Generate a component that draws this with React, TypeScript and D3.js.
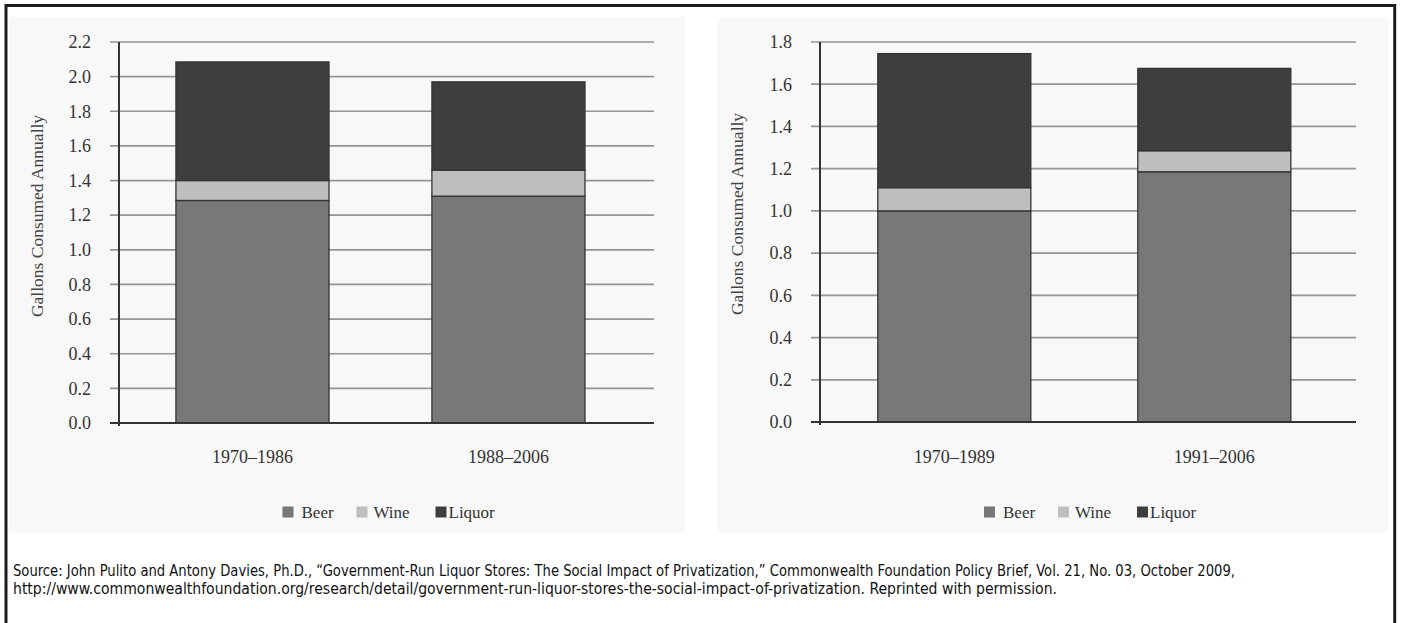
import React from "react";
import * as d3 from "d3";

// ---------- data ----------
const seriesNames = ["Beer", "Wine", "Liquor"];

const categoriesLeft = ["1970–1986", "1988–2006"];
const beerLeft = [1.285, 1.31];
const wineLeft = [0.115, 0.15];
const liquorLeft = [0.685, 0.51];
const ticksLeft = [0, 0.2, 0.4, 0.6, 0.8, 1.0, 1.2, 1.4, 1.6, 1.8, 2.0, 2.2];

const categoriesRight = ["1970–1989", "1991–2006"];
const beerRight = [1.0, 1.185];
const wineRight = [0.11, 0.1];
const liquorRight = [0.635, 0.39];
const ticksRight = [0, 0.2, 0.4, 0.6, 0.8, 1.0, 1.2, 1.4, 1.6, 1.8];

const yTitle = "Gallons Consumed Annually";
const sourceLine1 =
  "Source: John Pulito and Antony Davies, Ph.D., “Government-Run Liquor Stores: The Social Impact of Privatization,” Commonwealth Foundation Policy Brief, Vol. 21, No. 03, October 2009,";
const sourceLine2 =
  "http://www.commonwealthfoundation.org/research/detail/government-run-liquor-stores-the-social-impact-of-privatization. Reprinted with permission.";

// ---------- styles ----------
const colors: Record<string, string> = { Beer: "#78787a", Wine: "#bdbebf", Liquor: "#3e3e40" };
const SERIF = "'Liberation Serif', 'DejaVu Serif', serif";
const NARROW = "'Liberation Sans Narrow', 'DejaVu Sans Condensed', 'Liberation Sans', sans-serif";

type PanelProps = {
  categories: string[];
  beer: number[];
  wine: number[];
  liquor: number[];
  ticks: number[];
  yMax: number;
  axisX: number;
  gridEnd: number;
  top: number;
  bottom: number;
  pIn: number;
  pOut: number;
  align: number;
  titleX: number;
  titleY: number;
  panel: [number, number, number, number];
};

function Panel(p: PanelProps) {
  const rows = p.categories.map((c, i) => ({
    cat: c,
    Beer: p.beer[i],
    Wine: p.wine[i],
    Liquor: p.liquor[i],
  }));
  const stacked = d3.stack<any>().keys(seriesNames)(rows);
  const x = d3
    .scaleBand()
    .domain(p.categories)
    .range([p.axisX, p.gridEnd])
    .paddingInner(p.pIn)
    .paddingOuter(p.pOut)
    .align(p.align);
  const y = d3.scaleLinear().domain([0, p.yMax]).range([p.bottom, p.top]);
  const center = (p.axisX + p.gridEnd) / 2;
  const legendOffsets = [
    { sq: 0, tx: 19 },
    { sq: 74, tx: 91 },
    { sq: 153, tx: 166 },
  ];
  const legendStart = center - 104;
  const legendY = 512;
  return (
    <g>
      <rect x={p.panel[0]} y={p.panel[1]} width={p.panel[2]} height={p.panel[3]} fill="#f8f8f8" />
      {/* gridlines */}
      {p.ticks.map((t) =>
        t === 0 ? null : (
          <line key={"g" + t} x1={p.axisX - 9} x2={p.gridEnd} y1={y(t)} y2={y(t)} stroke="#959595" strokeWidth={1.7} />
        )
      )}
      {/* bars */}
      {stacked.map((s) =>
        s.map((d, i) => (
          <rect
            key={s.key + i}
            x={x(p.categories[i])!}
            width={x.bandwidth()}
            y={y(d[1])}
            height={y(d[0]) - y(d[1])}
            fill={colors[s.key]}
            stroke="#333335"
            strokeWidth={1.3}
          />
        ))
      )}
      {/* axes */}
      <line x1={p.axisX - 9} x2={p.gridEnd} y1={y(0)} y2={y(0)} stroke="#333" strokeWidth={2} />
      <line x1={p.axisX} x2={p.axisX} y1={y(p.yMax)} y2={y(0) + 3} stroke="#333" strokeWidth={2} />
      {/* tick labels */}
      {p.ticks.map((t) => (
        <text
          key={"t" + t}
          x={p.axisX - 28}
          y={y(t)}
          dy="0.35em"
          textAnchor="end"
          fontFamily={SERIF}
          fontSize={18}
          fill="#333"
        >
          {t.toFixed(1)}
        </text>
      ))}
      {/* category labels */}
      {p.categories.map((c) => (
        <text
          key={"c" + c}
          x={x(c)! + x.bandwidth() / 2}
          y={457}
          dy="0.35em"
          textAnchor="middle"
          fontFamily={SERIF}
          fontSize={18}
          fill="#333"
        >
          {c}
        </text>
      ))}
      {/* y title */}
      <text
        transform={`translate(${p.titleX},${p.titleY}) rotate(-90)`}
        textAnchor="middle"
        dy="0.35em"
        fontFamily={SERIF}
        fontSize={17.5}
        fill="#444"
      >
        {yTitle}
      </text>
      {/* legend */}
      {seriesNames.map((n, i) => (
        <g key={"l" + n}>
          <rect
            x={legendStart + legendOffsets[i].sq}
            y={legendY - 5.5}
            width={11}
            height={11}
            fill={colors[n]}
          />
          <text
            x={legendStart + legendOffsets[i].tx}
            y={legendY}
            dy="0.35em"
            fontFamily={SERIF}
            fontSize={17}
            fill="#333"
          >
            {n}
          </text>
        </g>
      ))}
    </g>
  );
}

export default function App() {
  const W = 1401;
  const H = 623;
  return (
    <svg
      width={W}
      height={H}
      style={{ position: "absolute", left: 0, top: 0, background: "#fff" }}
    >
      <rect x={0} y={0} width={W} height={H} fill="#fff" />
      <Panel
        categories={categoriesLeft}
        beer={beerLeft}
        wine={wineLeft}
        liquor={liquorLeft}
        ticks={ticksLeft}
        yMax={2.2}
        axisX={119}
        gridEnd={654}
        top={42}
        bottom={423}
        pIn={0.402}
        pOut={0.246}
        align={0.452}
        titleX={37}
        titleY={216}
        panel={[9, 17, 676, 516]}
      />
      <Panel
        categories={categoriesRight}
        beer={beerRight}
        wine={wineRight}
        liquor={liquorRight}
        ticks={ticksRight}
        yMax={1.8}
        axisX={820}
        gridEnd={1356}
        top={42}
        bottom={422}
        pIn={0.4115}
        pOut={0.2365}
        align={0.47}
        titleX={737}
        titleY={214}
        panel={[717, 18, 671, 515]}
      />
      <text
        x={13}
        y={576}
        fontFamily={NARROW}
        fontSize={16}
        fill="#111"
        textLength={1222}
        lengthAdjust="spacingAndGlyphs"
      >
        {sourceLine1}
      </text>
      <text
        x={13}
        y={594}
        fontFamily={NARROW}
        fontSize={16}
        fill="#111"
        textLength={1044}
        lengthAdjust="spacingAndGlyphs"
      >
        {sourceLine2}
      </text>
      {/* frame */}
      <path d={`M6,${H + 2} V5.5 H1394.7 V${H + 2}`} fill="none" stroke="#1c1c1c" strokeWidth={3} />
    </svg>
  );
}
